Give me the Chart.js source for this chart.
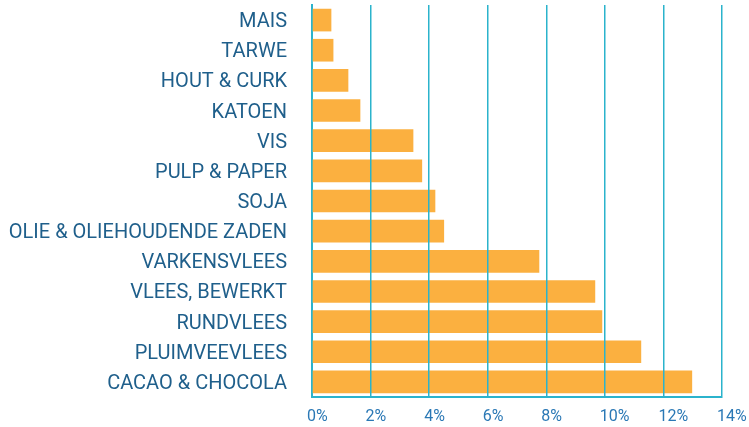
<!DOCTYPE html>
<html>
<head>
<meta charset="utf-8">
<script src="https://cdn.jsdelivr.net/npm/chart.js@4/dist/chart.umd.min.js"></script>
<style>
  html, body { margin: 0; padding: 0; background: #fff; overflow: hidden; }
  #wrap { width: 749px; height: 427px; position: relative; }
</style>
</head>
<body>
<div id="wrap"><canvas id="bar-chart"></canvas></div>
<script>
const categories = [
  'MAIS', 'TARWE', 'HOUT & CURK', 'KATOEN', 'VIS', 'PULP & PAPER', 'SOJA',
  'OLIE & OLIEHOUDENDE ZADEN', 'VARKENSVLEES', 'VLEES, BEWERKT', 'RUNDVLEES',
  'PLUIMVEEVLEES', 'CACAO & CHOCOLA'
];
const shares = [0.65, 0.72, 1.23, 1.64, 3.45, 3.75, 4.2, 4.5, 7.75, 9.66, 9.9, 11.23, 12.97];
const tickValues = [0, 2, 4, 6, 8, 10, 12, 14];

const LINE = '#2bb3cc';
const LABEL = '#1f5f8b';
const TICK = '#2a78b5';

const ctx = document.getElementById('bar-chart').getContext('2d');
new Chart(ctx, {
  type: 'bar',
  data: {
    labels: categories,
    datasets: [{
      data: shares,
      backgroundColor: '#fbb040',
      borderWidth: 0,
      barThickness: 22,
    }],
  },
  options: {
    indexAxis: 'y',
    responsive: true,
    maintainAspectRatio: false,
    animation: false,
    layout: { padding: { top: 5, bottom: 3, left: 0, right: 0 } },
    plugins: { legend: { display: false }, tooltip: { enabled: false } },
    scales: {
      x: {
        min: 0,
        max: 14,
        afterBuildTicks: (s) => { s.ticks = tickValues.map(v => ({ value: v })); },
        // let the last label run off the edge like the original
        afterFit: (s) => { s.paddingRight = 27; s.paddingLeft = 0; s.height = 27; },
        grid: { color: LINE, lineWidth: 1.5, drawTicks: false, z: 1 },
        border: { color: LINE, width: 2, z: 1 },
        ticks: {
          align: 'start',
          labelOffset: -5,
          padding: 10,
          color: TICK,
          font: { family: 'Roboto', size: 16 },
          callback: (v) => v + '%',
        },
      },
      y: {
        afterFit: (s) => { s.paddingTop = 0; s.paddingBottom = 0; s.width = 312; },
        grid: { display: false, drawTicks: false },
        border: { color: LINE, width: 2 },
        ticks: {
          autoSkip: false,
          padding: 25,
          labelOffset: 2,
          color: LABEL,
          font: { family: 'Roboto', size: 20 },
        },
      },
    },
  },
});
</script>
</body>
</html>
